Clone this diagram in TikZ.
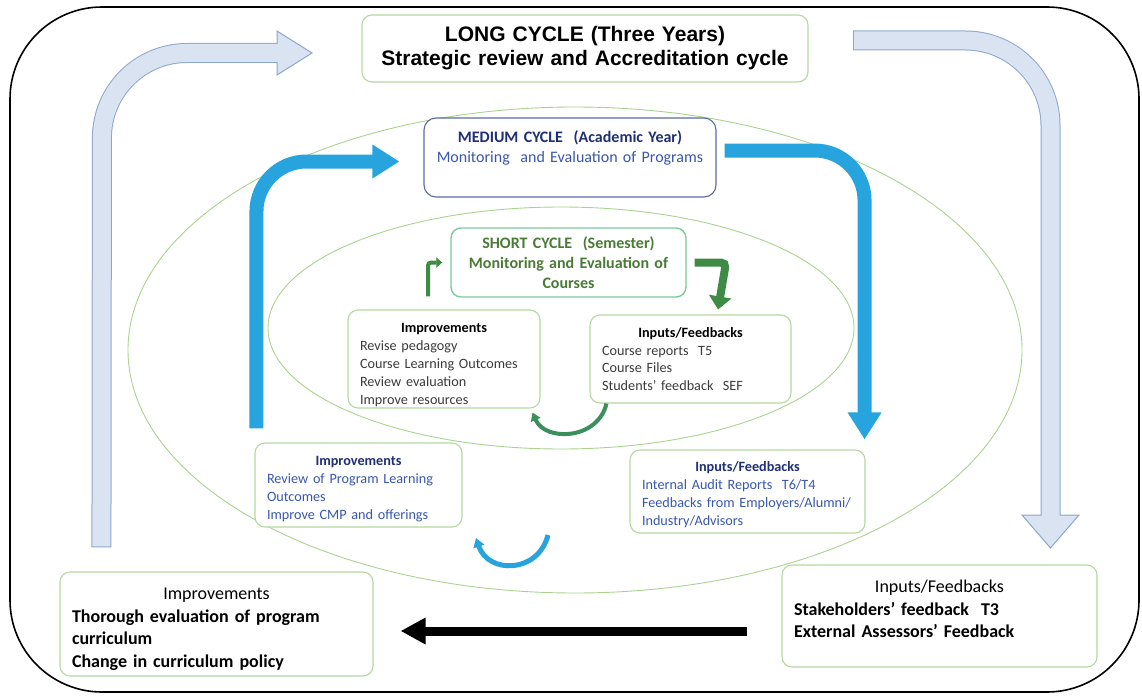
\documentclass[tikz,border=0pt]{standalone}
\usepackage{fontspec}
\setmainfont{Carlito}
\newfontfamily\arialfont{Liberation Sans}
\usetikzlibrary{calc,arrows.meta}
\definecolor{boxgreen}{HTML}{B5D8A2}
\definecolor{shortgreen}{HTML}{7CC9A0}
\definecolor{medframe}{HTML}{5C6A9E}
\definecolor{ellgreen}{HTML}{ABD38F}
\definecolor{lightfill}{HTML}{DAE3F1}
\definecolor{lightedge}{HTML}{8DA7CB}
\definecolor{cycleblue}{HTML}{27A4DD}
\definecolor{navy}{HTML}{1F2F72}
\definecolor{progblue}{HTML}{3A58AA}
\definecolor{leafgreen}{HTML}{4A7B36}
\definecolor{arrowgreen}{HTML}{3D8B45}
\definecolor{notegray}{HTML}{3B3B3B}
\def\drawlightedge{\draw[color=lightedge, line width=20pt, rounded corners=85pt]}
\def\drawlightfill{\draw[color=lightfill, line width=18pt, rounded corners=85pt]}
\def\drawblue{\draw[color=cycleblue, line width=14pt, rounded corners=50pt, -{Triangle[length=27pt,width=32pt]}]}
\def\cyclebox{\node[draw=boxgreen, line width=1.1pt, rounded corners=10pt, fill=white, inner xsep=12pt, inner ysep=0pt, align=left]}
\tikzset{
  smalltxt/.style={font=\fontsize{14.2}{17.8}\selectfont},
  bigtxt/.style={font=\fontsize{18}{22.5}\selectfont}
}

\begin{document}
\begin{tikzpicture}[x=1pt,y=-1pt,inner sep=0pt]
\useasboundingbox (0,0) rectangle (1142,698);
\draw[line width=1.6pt, rounded corners=92pt] (10,7) rectangle (1139,692); % outer frame

% ---------- the medium and short cycle rings
\draw[color=ellgreen, line width=0.9pt] (575,350) ellipse [x radius=447pt, y radius=243pt];
\draw[color=ellgreen, line width=0.9pt] (561,328) ellipse [x radius=293pt, y radius=121pt];

% ---------- long cycle
\cyclebox[text width=422pt, minimum height=67pt, align=center,
  font=\arialfont\bfseries\fontsize{21}{24}\selectfont] (longB) at (585,48.5)
  {LONG CYCLE (Three Years)\\Strategic review and Accreditation cycle};
\cyclebox[minimum width=313pt, minimum height=104pt] (impL) at (216.5,624) {};
\node[bigtxt, text width=289pt, align=left] (impLtxt) at ($ (impL.center) + (0,5) $)
  {{\centering\leavevmode Improvements\par}\bfseries Thorough evaluation of program\\curriculum\\Change in curriculum policy};
\cyclebox[minimum width=315pt, minimum height=102pt] (inL) at (939.5,616) {};
\node[bigtxt, text width=291pt, align=left] (inLtxt) at ($ (inL.center) + (0,-7) $)
  {{\centering\leavevmode Inputs/Feedbacks\par}\bfseries Stakeholders' feedback\ \ T3\\External Assessors' Feedback};

% ---------- medium cycle
\cyclebox[draw=medframe, rounded corners=12pt, text width=268pt, minimum height=79pt, align=center,
  text=navy, font=\fontsize{16}{20}\selectfont] (medB) at (570,157.5)
  {\bfseries MEDIUM CYCLE\ \ (Academic Year)\\\mdseries\color{progblue}Monitoring\ \ and Evaluation of Programs\par\vspace{19pt}};
\cyclebox[smalltxt, text=progblue, text width=183pt, minimum height=84pt] (impM) at (358.5,485)
  {{\centering\leavevmode\bfseries\color{navy}Improvements\par}Review of Program Learning\\Outcomes\\Improve CMP and offerings\par\vspace{-8pt}};
\cyclebox[smalltxt, text=progblue, text width=211pt, minimum height=83pt] (inM) at (747.5,491.5)
  {{\centering\leavevmode\bfseries\color{navy}Inputs/Feedbacks\par}Internal Audit Reports\ \ T6/T4\\Feedbacks from Employers/Alumni/\\Industry/Advisors\par\vspace{-6pt}};

% ---------- short cycle
\cyclebox[draw=shortgreen, line width=1.4pt, text width=211pt, minimum height=69pt, align=center,
  text=leafgreen, font=\bfseries\fontsize{16}{19.8}\selectfont] (shortB) at (568.5,262.5)
  {SHORT CYCLE\ \ (Semester)\\Monitoring and Evaluation of\\Courses};
\cyclebox[smalltxt, text=notegray, text width=168pt, minimum height=98pt] (impS) at (444,359)
  {{\centering\leavevmode\bfseries\color{black}Improvements\par}Revise pedagogy\\Course Learning Outcomes\\Review evaluation\\Improve resources\par\vspace{-12pt}};
\cyclebox[smalltxt, text=notegray, text width=177pt, minimum height=88pt] (inS) at (690.5,359)
  {{\centering\leavevmode\bfseries\color{black}Inputs/Feedbacks\par}Course reports\ \ T5\\Course Files\\Students' feedback\ \ SEF};

% ---------- long cycle arrows (light, outlined)
\coordinate (lng_up) at ($ (impL.north west) + (42,-24) $); % foot of the left arrow
\coordinate (lng_tl) at (102,53);
\coordinate (lng_tip) at (280,53);
\drawlightedge (lng_up) -- (lng_tl) -- (lng_tip);
\filldraw[fill=lightfill, draw=lightedge, line width=1pt] (277,31) -- (312,53) -- (277,75) -- cycle;
\drawlightfill[shorten <=1pt] (lng_up) -- (lng_tl) -- (278.6,53);

\coordinate (lng_rs) at (853,40.5);
\coordinate (lng_tr) at (1050.5,40.5);
\coordinate (lng_down) at (1050.5,518);
\drawlightedge (lng_rs) -- (lng_tr) -- (lng_down);
\filldraw[fill=lightfill, draw=lightedge, line width=1pt] (1022,515) -- (1079,515) -- (1050.5,548) -- cycle;
\drawlightfill[shorten <=1pt] (lng_rs) -- (lng_tr) -- (1050.5,516.4);

% black arrow from external inputs back to improvements
\coordinate (blk_s) at ($ (inL.west) + (-34,15) $);
\coordinate (blk_e) at ($ (impL.east) + (27,7) $);
\draw[line width=9pt, -{Triangle[length=25pt,width=25pt]}] (blk_s) -- (blk_e);

% ---------- medium cycle arrows
\coordinate (blu_l) at ($ (impM.north west) + (2,-14) $);
\coordinate (blu_tip) at ($ (medB.west) + (-24,4) $);
\drawblue (blu_l) -- (blu_l |- blu_tip) -- (blu_tip);
\coordinate (blu_r) at ($ (medB.east) + (8,-7) $);
\coordinate (blu_end) at ($ (inM.north east) + (-1,-10) $);
\drawblue (blu_r) -- (blu_r -| blu_end) -- (blu_end);
\coordinate (arc_m1) at (548,535);
\coordinate (arc_m2) at (476,538);
\draw[color=cycleblue, line width=5pt, -{Triangle[length=9pt,width=11pt]}]
  (arc_m1) .. controls (538,574) and (488,574) .. (arc_m2);

% ---------- short cycle arrows
\coordinate (grn_l) at ($ (impS.north) + (-16,-13) $);
\draw[color=arrowgreen, line width=4pt, rounded corners=3pt, -{Triangle[length=6pt,width=10pt]}]
  (grn_l) -- (grn_l |- shortB.west) -- ([xshift=-8pt]shortB.west);
\coordinate (grn_r) at ($ (inS.north) + (27.5,-5) $);
\draw[color=arrowgreen, line width=8pt, rounded corners=5pt, -{Triangle[length=13pt,width=22pt]}]
  ([xshift=8pt]shortB.east) -- ([xshift=8pt]shortB.east -| grn_r) -- (grn_r);
\coordinate (arc_s1) at ($ (inS.south west) + (17,0) $);
\coordinate (arc_s2) at ($ (impS.south east) + (-8,4) $);
\draw[color=arrowgreen!85!cycleblue, line width=4pt, -{Triangle[length=8pt,width=10pt]}]
  (arc_s1) .. controls (598,440) and (545,442) .. (arc_s2);
\end{tikzpicture}
\end{document}
